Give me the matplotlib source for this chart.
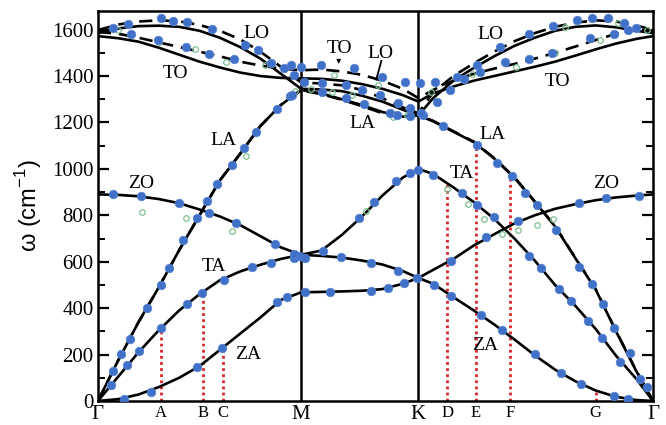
import numpy as np
import matplotlib
matplotlib.use("Agg")
import matplotlib.pyplot as plt

# ---------------- data ----------------
G0, M, K, G1 = 0.0, 1.0, 1.0 + 1/np.sqrt(3), 1.0 + np.sqrt(3)

q = [0, 0.1, 0.2, 0.3, 0.4, 0.5, 0.6, 0.7, 0.8, 0.9, 1.0,
     1.1, 1.2, 1.3, 1.4, 1.5, K,
     1.65, 1.75, 1.85, 1.95, 2.05, 2.15, 2.25, 2.35, 2.45, 2.55, 2.65, G1]

ZA = [0, 8, 28, 60, 100, 150, 220, 290, 360, 435, 468,
      470, 472, 475, 482, 505, 530,
      505, 447, 390, 330, 265, 197, 135, 85, 45, 18, 4, 0]
TA = [0, 105, 210, 305, 390, 460, 520, 558, 587, 612, 630,
      648, 715, 795, 885, 962, 1000,
      978, 920, 857, 785, 700, 605, 500, 410, 310, 195, 95, 0]
ZO = [890, 888, 882, 870, 852, 825, 795, 758, 710, 662, 630,
      625, 618, 605, 588, 560, 530,
      565, 612, 670, 718, 765, 800, 828, 848, 865, 877, 885, 890]
LA = [0, 175, 340, 490, 650, 800, 950, 1065, 1185, 1275, 1340,
      1325, 1300, 1275, 1245, 1225, 1230,
      1205, 1160, 1115, 1045, 962, 858, 752, 615, 480, 300, 128, 0]
LO = [1585, 1605, 1615, 1617, 1612, 1595, 1565, 1525, 1475, 1410, 1345,
      1342, 1335, 1315, 1290, 1255, 1230,
      1305, 1380, 1435, 1485, 1530, 1565, 1595, 1612, 1618, 1610, 1595, 1585]
TO = [1572, 1563, 1548, 1522, 1492, 1462, 1437, 1415, 1400, 1392, 1390,
      1388, 1380, 1365, 1345, 1318, 1290,
      1325, 1355, 1380, 1400, 1420, 1440, 1462, 1488, 1515, 1540, 1560, 1572]

LO_dash = [1598, 1622, 1635, 1640, 1636, 1620, 1595, 1558, 1505, 1440, 1372,
           1368, 1360, 1340, 1305, 1265, 1240,
           1330, 1400, 1455, 1505, 1550, 1585, 1612, 1630, 1640, 1635, 1618, 1598]
TO_dash = [1590, 1582, 1565, 1545, 1525, 1505, 1485, 1462, 1445, 1432, 1425,
           1428, 1420, 1405, 1380, 1345, 1305,
           1340, 1380, 1410, 1432, 1452, 1475, 1500, 1527, 1555, 1582, 1598, 1596]
LA_dash = [0, 175, 340, 490, 650, 800, 950, 1065, 1185, 1275, 1338,
           1322, 1298, 1270, 1240, 1220, 1232,
           1207, 1162, 1117, 1047, 964, 860, 754, 617, 482, 302, 130, 0]

blue_x = [0.074, 0.115, 0.157, 0.24, 0.31, 0.35, 0.42, 0.49, 0.535, 0.585, 0.66, 0.72, 0.78, 0.88, 0.945,
          0.066, 0.145, 0.20, 0.31, 0.44, 0.51, 0.62, 0.76, 0.85, 0.965, 0.99, 1.02,
          0.13, 0.26, 0.49, 0.61, 0.88, 0.93, 1.02, 1.14, 1.345, 1.427, 1.505,
          0.074, 0.21, 0.40, 0.545, 0.68, 0.87, 0.965, 1.196, 1.345, 1.477,
          1.106, 1.287, 1.361, 1.469, 1.535, 1.576, 1.571,
          1.65, 1.79, 1.865, 1.947, 2.124, 2.18, 2.27, 2.33, 2.41, 2.48, 2.57, 2.67,
          1.60, 1.70, 1.865, 1.963, 2.04, 2.10, 2.16, 2.256, 2.37, 2.43, 2.485, 2.54, 2.62, 2.70,
          1.655, 1.74, 1.885, 1.99, 2.15, 2.28, 2.38, 2.54, 2.61,
          1.74, 1.91, 2.07, 2.37, 2.50, 2.665,
          0.074, 0.149, 0.313, 0.371, 0.44, 0.56, 0.726, 0.79, 0.85, 0.916, 0.95, 0.999,
          0.165, 0.297, 0.434, 0.545, 0.668, 0.965, 1.015, 0.957,
          1.098, 1.105, 1.105, 1.22, 1.22, 1.26, 1.30, 1.31, 1.386, 1.40, 1.477, 1.436, 1.47,
          1.51, 1.535, 1.535, 1.584, 1.59,
          1.658, 1.667, 1.733, 1.766, 1.80, 1.865, 1.88, 1.98, 2.005, 2.12, 2.12, 2.235,
          2.24, 2.36, 2.43, 2.42, 2.51, 2.54, 2.59, 2.61, 2.65]
blue_y = [129, 201, 267, 400, 498, 571, 692, 787, 860, 933, 1015, 1088, 1161, 1256, 1312,
          69, 154, 215, 314, 417, 465, 523, 576, 594, 615, 625, 615,
          10, 39, 146, 228, 426, 447, 470, 470, 473, 485, 509,
          890, 882, 852, 809, 766, 676, 632, 621, 595, 559,
          645, 788, 856, 946, 982, 996, 530,
          975, 896, 846, 791, 624, 573, 483, 430, 344, 270, 169, 96,
          1233, 1183, 1104, 1025, 968, 896, 846, 738, 576, 505, 419, 315, 208, 60,
          499, 452, 370, 304, 201, 119, 75, 22, 7,
          605, 705, 774, 853, 874, 882,
          1609, 1624, 1649, 1639, 1632, 1602, 1534, 1512, 1456, 1434, 1448, 1441,
          1580, 1555, 1527, 1494, 1473, 1405, 1376, 1319,
          1448, 1370, 1333, 1362, 1305, 1434, 1340, 1279, 1319, 1398, 1283, 1240, 1233,
          1376, 1262, 1226, 1370, 1240,
          1376, 1290, 1340, 1398, 1388, 1448, 1419, 1524, 1459, 1580, 1474, 1500,
          1617, 1640, 1652, 1565, 1648, 1583, 1627, 1598, 1606]

green_x = [0.215, 0.436, 0.66, 0.73, 1.32, 1.72, 1.82, 1.90, 1.99, 2.07, 2.16, 2.24,
           0.10, 0.37, 0.30, 0.48, 0.63, 0.82, 0.97, 1.05, 1.15, 1.25, 1.16, 1.38, 1.45,
           1.52, 1.64, 1.84, 2.06, 2.25, 2.30, 2.47, 2.56, 2.70]
green_y = [813, 787, 731, 1054, 817, 912, 847, 783, 718, 735, 757, 783,
           1598, 1632, 1548, 1515, 1462, 1448, 1335, 1345, 1330, 1318, 1405, 1362, 1222,
           1232, 1330, 1408, 1440, 1498, 1612, 1556, 1627, 1598]

tick_pos = [G0, 0.31, 0.515, 0.614, M, K, 1.72, 1.86, 2.03, 2.45, G1]
tick_lab = ["Γ", "A", "B", "C", "M", "K", "D", "E", "F", "G", "Γ"]
red_x = [0.31, 0.515, 0.614, 1.72, 1.86, 2.03, 2.45]
red_top = [314, 470, 230, 938, 1108, 978, 50]

labels = [("LO", 0.78, 1583), ("TO", 0.38, 1411), ("LA", 0.62, 1122), ("ZO", 0.21, 938),
          ("TA", 0.57, 581), ("ZA", 0.74, 202), ("TO", 1.19, 1518), ("LO", 1.39, 1497),
          ("LA", 1.30, 1196), ("LO", 1.93, 1578), ("TO", 2.26, 1376), ("LA", 1.94, 1148),
          ("TA", 1.79, 981), ("ZO", 2.50, 938), ("ZA", 1.906, 237)]

# ---------------- figure ----------------
fig = plt.figure(figsize=(6.66, 4.25), dpi=100)
ax = fig.add_axes([0.147, 0.0565, 0.8335, 0.9175])
serif = "Liberation Serif"

for ys in (ZA, TA, ZO, LA, LO, TO):
    ax.plot(q, ys, color="black", lw=1.9, solid_capstyle="round", zorder=3)
for ys in (LO_dash, TO_dash, LA_dash):
    ax.plot(q, ys, color="black", lw=1.9, ls=(0, (5, 3)), zorder=3)

for xv, top in zip(red_x, red_top):
    ax.plot([xv, xv], [0, top], color="#d9262a", lw=2.0, ls=(0, (1, 1.2)), zorder=2)

ax.axvline(M, color="black", lw=1.8, zorder=4)
ax.axvline(K, color="black", lw=1.8, zorder=4)

ax.plot(green_x, green_y, "o", mfc="none", mec="#7fbf8f", mew=0.9, ms=4, zorder=5)
ax.plot(blue_x, blue_y, "o", color="#4070c8", ms=6.2, mec="#5a86d2", mew=0.5, zorder=6)

for t, xv, yv in labels:
    ax.text(xv, yv, t, fontsize=14, family=serif, ha="center", va="center", zorder=7)

# small markers near TO / LO labels in M-K
ax.annotate("", xy=(1.185, 1440), xytext=(1.185, 1478),
            arrowprops=dict(arrowstyle="-|>", lw=0.8, color="black", mutation_scale=6), zorder=7)
ax.plot([1.395, 1.37], [1465, 1385], color="black", lw=1.3, zorder=7)

ax.set_xlim(G0, G1)
ax.set_ylim(0, 1680)
ax.set_yticks(np.arange(0, 1601, 200))
ax.set_yticks(np.arange(0, 1681, 100), minor=True)
ax.tick_params(axis="y", which="major", direction="in", length=8, width=1.6,
               right=True, labelsize=15, pad=3)
ax.tick_params(axis="y", which="minor", direction="in", length=5, width=1.4, right=True)
for lab in ax.get_yticklabels():
    lab.set_family(serif)

ax.set_xticks(tick_pos)
ax.set_xticklabels(tick_lab)
ax.tick_params(axis="x", length=0, pad=3)
for lab, t in zip(ax.get_xticklabels(), tick_lab):
    lab.set_family(serif)
    lab.set_fontsize(15 if t in ("Γ", "M", "K") else 12)

for sp in ax.spines.values():
    sp.set_linewidth(1.8)

ax.set_ylabel("ω (cm$^{\\mathregular{-1}}$)", fontsize=17, family="Liberation Sans", labelpad=6)

fig.savefig("out.png", dpi=100)
